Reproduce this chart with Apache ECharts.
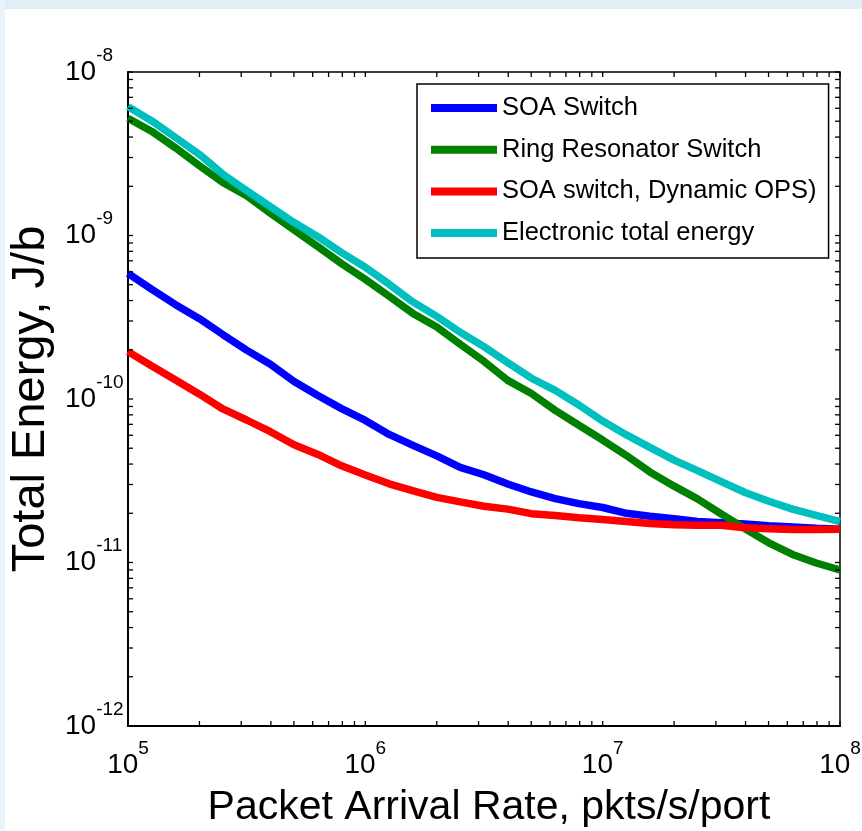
<!DOCTYPE html>
<html>
<head>
<meta charset="utf-8">
<script src="https://cdn.jsdelivr.net/npm/echarts@6/dist/echarts.min.js"></script>
<style>
  html, body { margin: 0; padding: 0; background: #fff; }
  #chart { width: 862px; height: 831px; }
</style>
</head>
<body>
<div id="chart"></div>
<script>
// packet arrival rate, pkts/s/port
const arrivalRate = [1e5, 1.26e5, 1.58e5, 2e5, 2.51e5, 3.16e5, 3.98e5, 5.01e5, 6.31e5, 7.94e5,
  1e6, 1.26e6, 1.58e6, 2e6, 2.51e6, 3.16e6, 3.98e6, 5.01e6, 6.31e6, 7.94e6,
  1e7, 1.26e7, 1.58e7, 2e7, 2.51e7, 3.16e7, 3.98e7, 5.01e7, 6.31e7, 7.94e7, 1e8];

// total energy, J/b
const soaSwitch = [5.87e-10, 4.68e-10, 3.79e-10, 3.10e-10, 2.48e-10, 1.99e-10, 1.63e-10, 1.28e-10, 1.05e-10, 8.73e-11,
  7.39e-11, 6.07e-11, 5.22e-11, 4.49e-11, 3.82e-11, 3.44e-11, 3.02e-11, 2.70e-11, 2.46e-11, 2.29e-11,
  2.17e-11, 2.00e-11, 1.92e-11, 1.85e-11, 1.78e-11, 1.75e-11, 1.72e-11, 1.68e-11, 1.65e-11, 1.62e-11, 1.60e-11];
const ringResonator = [5.21e-9, 4.33e-9, 3.45e-9, 2.67e-9, 2.11e-9, 1.75e-9, 1.37e-9, 1.08e-9, 8.55e-10, 6.73e-10,
  5.39e-10, 4.25e-10, 3.35e-10, 2.76e-10, 2.16e-10, 1.70e-10, 1.30e-10, 1.08e-10, 8.52e-11, 6.91e-11,
  5.61e-11, 4.51e-11, 3.58e-11, 2.93e-11, 2.45e-11, 1.98e-11, 1.61e-11, 1.32e-11, 1.12e-11, 9.93e-12, 9.0e-12];
const soaDynamic = [1.95e-10, 1.59e-10, 1.31e-10, 1.07e-10, 8.69e-11, 7.44e-11, 6.31e-11, 5.25e-11, 4.58e-11, 3.90e-11,
  3.43e-11, 3.03e-11, 2.75e-11, 2.50e-11, 2.35e-11, 2.21e-11, 2.12e-11, 1.99e-11, 1.94e-11, 1.88e-11,
  1.83e-11, 1.78e-11, 1.73e-11, 1.70e-11, 1.69e-11, 1.69e-11, 1.63e-11, 1.61e-11, 1.59e-11, 1.59e-11, 1.60e-11];
const electronic = [6.14e-9, 5.02e-9, 3.99e-9, 3.13e-9, 2.37e-9, 1.88e-9, 1.50e-9, 1.20e-9, 9.83e-10, 7.86e-10,
  6.40e-10, 5.04e-10, 3.94e-10, 3.20e-10, 2.56e-10, 2.09e-10, 1.67e-10, 1.34e-10, 1.13e-10, 9.19e-11,
  7.33e-11, 6.03e-11, 5.06e-11, 4.23e-11, 3.65e-11, 3.12e-11, 2.68e-11, 2.37e-11, 2.12e-11, 1.94e-11, 1.78e-11];

const seriesNames = ['SOA Switch', 'Ring Resonator Switch', 'SOA switch, Dynamic OPS)', 'Electronic total energy'];
const xDecades = [5, 6, 7, 8];
const yDecades = [-12, -11, -10, -9, -8];

const FONT = "'Liberation Sans', Arial, Helvetica, sans-serif";
const X_MIN = Math.pow(10, xDecades[0]), X_MAX = Math.pow(10, xDecades[xDecades.length - 1]);
const Y_MIN = Math.pow(10, yDecades[0]), Y_MAX = Math.pow(10, yDecades[yDecades.length - 1]);

// matlab style ticks at 1..9 x 10^n
function tickValues(decades) {
  const out = [];
  for (let i = 0; i < decades.length - 1; i++) {
    for (let m = 1; m <= 9; m++) out.push(m * Math.pow(10, decades[i]));
  }
  out.push(Math.pow(10, decades[decades.length - 1]));
  return out;
}

const pairs = ys => arrivalRate.map((x, i) => [x, ys[i]]);
const TICK = 5;
const tickStyle = { stroke: '#000', lineWidth: 1.3 };

// "10" centred in a tall line, exponent pinned to the top of it
const expLabel = v => '{b|10}{s|' + Math.round(Math.log10(v)) + '}';
const labelRich = {
  b: { fontSize: 28, lineHeight: 52, fontFamily: FONT, color: '#000' },
  s: { fontSize: 19, lineHeight: 19, verticalAlign: 'top', fontFamily: FONT, color: '#000' }
};

const lineSeries = (name, data, color) => ({
  name, type: 'line', data: pairs(data), showSymbol: false, symbol: 'none',
  lineStyle: { color, width: 7.5 }, itemStyle: { color }, silent: true
});

const chart = echarts.init(document.getElementById('chart'));
chart.setOption({
  animation: false,
  backgroundColor: '#fff',
  graphic: [
    { type: 'rect', left: 0, top: 0, shape: { width: 862, height: 9 }, style: { fill: '#e1eef5' } },
    { type: 'rect', left: 0, top: 0, shape: { width: 5, height: 831 }, style: { fill: '#ebf3f8' } }
  ],
  grid: {
    left: 128, top: 72, right: 22, bottom: 105,
    containLabel: false, outerBoundsMode: 'none',
    show: true, borderColor: '#000', borderWidth: 1.5
  },
  legend: {
    data: seriesNames,
    orient: 'vertical', left: 417, top: 84,
    padding: [9, 12, 10, 14],
    itemGap: 11.7, itemWidth: 66, itemHeight: 8, itemTextGap: 8,
    icon: 'rect',
    backgroundColor: '#fff', borderColor: '#000', borderWidth: 1.5,
    textStyle: { fontSize: 25.5, lineHeight: 30, color: '#000', fontFamily: FONT }
  },
  xAxis: {
    type: 'log', logBase: 10, min: X_MIN, max: X_MAX,
    name: 'Packet Arrival Rate, pkts/s/port',
    nameLocation: 'middle', nameGap: 61,
    nameTextStyle: { fontSize: 41, color: '#000', fontFamily: FONT, padding: [0, 0, 0, 10] },
    axisLine: { show: true, lineStyle: { color: '#000', width: 2 } },
    axisTick: { show: false },
    splitLine: { show: false },
    axisLabel: { margin: 13, formatter: expLabel, rich: labelRich }
  },
  yAxis: {
    type: 'log', logBase: 10, min: Y_MIN, max: Y_MAX,
    name: 'Total Energy, J/b',
    nameLocation: 'middle', nameGap: 52,
    nameTextStyle: { fontSize: 47, color: '#000', fontFamily: FONT },
    axisLine: { show: true, lineStyle: { color: '#000', width: 2 } },
    axisTick: { show: false },
    splitLine: { show: false },
    axisLabel: { margin: 63, align: 'left', formatter: expLabel, rich: labelRich }
  },
  series: [
    lineSeries(seriesNames[0], soaSwitch, '#0000ff'),
    lineSeries(seriesNames[1], ringResonator, '#008000'),
    lineSeries(seriesNames[2], soaDynamic, '#ff0000'),
    lineSeries(seriesNames[3], electronic, '#00bfbf'),
    {
      type: 'custom', silent: true, z: 5,
      data: tickValues(xDecades).map(v => [v, Y_MIN]),
      renderItem(params, api) {
        const b = api.coord([api.value(0), Y_MIN]);
        const t = api.coord([api.value(0), Y_MAX]);
        return { type: 'group', children: [
          { type: 'line', shape: { x1: b[0], y1: b[1], x2: b[0], y2: b[1] - TICK }, style: tickStyle },
          { type: 'line', shape: { x1: t[0], y1: t[1], x2: t[0], y2: t[1] + TICK }, style: tickStyle }
        ] };
      }
    },
    {
      type: 'custom', silent: true, z: 5,
      data: tickValues(yDecades).map(v => [X_MIN, v]),
      renderItem(params, api) {
        const l = api.coord([X_MIN, api.value(1)]);
        const r = api.coord([X_MAX, api.value(1)]);
        return { type: 'group', children: [
          { type: 'line', shape: { x1: l[0], y1: l[1], x2: l[0] + TICK, y2: l[1] }, style: tickStyle },
          { type: 'line', shape: { x1: r[0], y1: r[1], x2: r[0] - TICK, y2: r[1] }, style: tickStyle }
        ] };
      }
    }
  ]
});
</script>
</body>
</html>
